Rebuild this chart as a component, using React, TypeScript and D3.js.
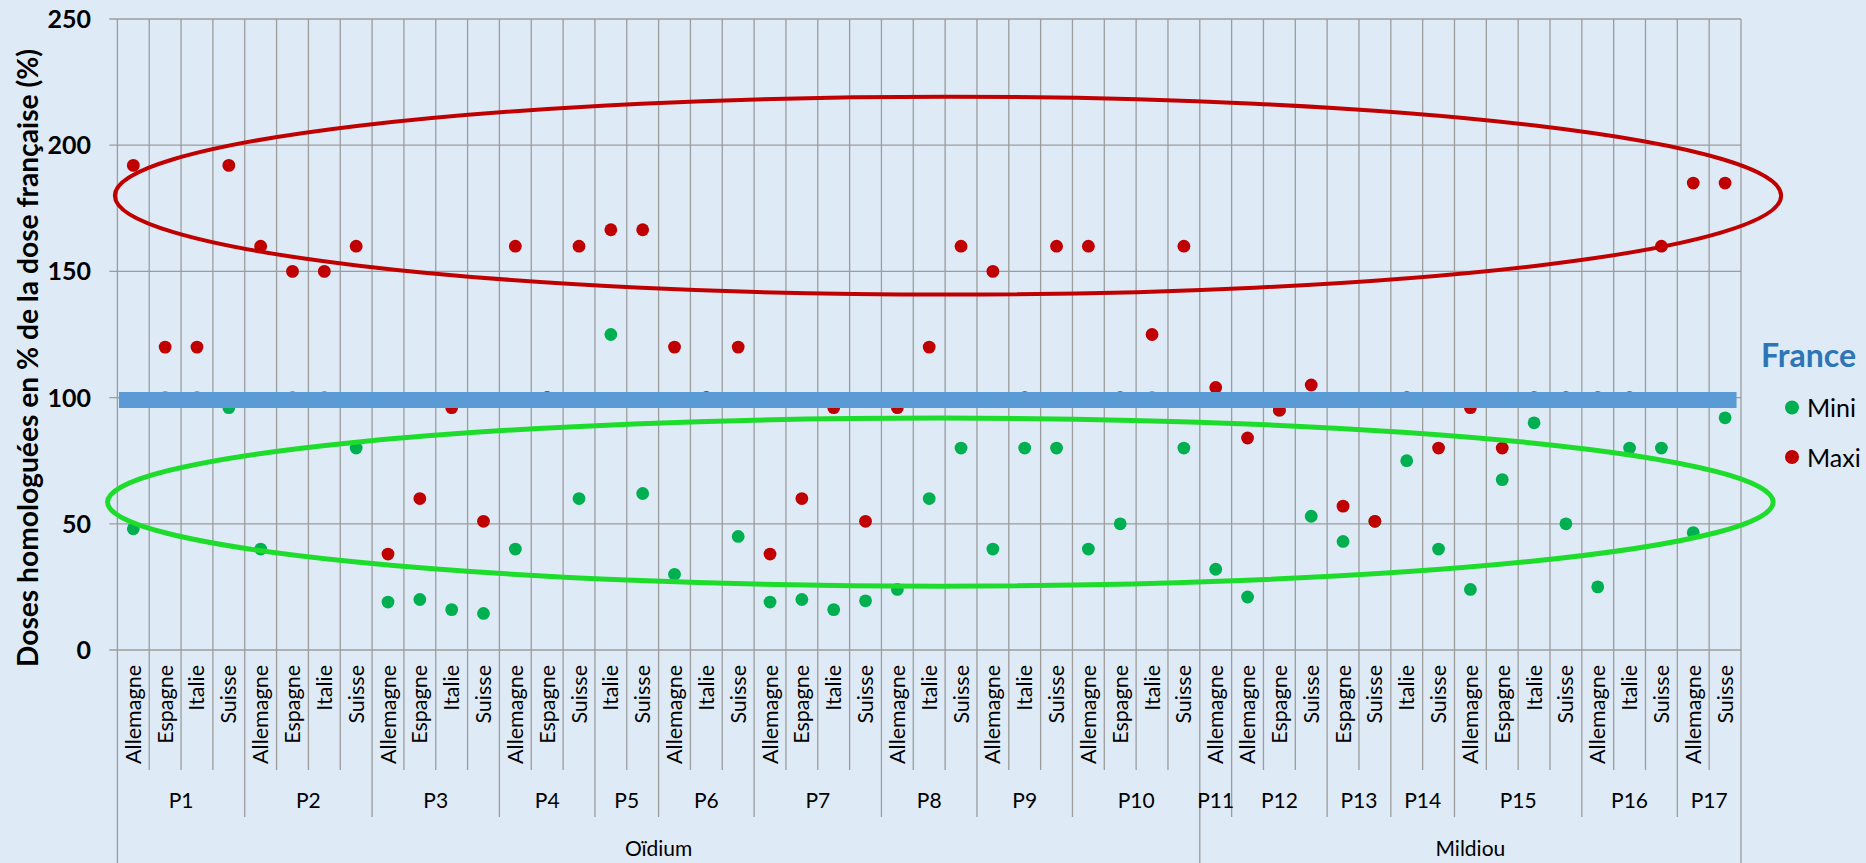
import React from "react";
import * as d3 from "d3";

// ---------- data ----------
const countries = [
  "Allemagne", "Espagne", "Italie", "Suisse",
  "Allemagne", "Espagne", "Italie", "Suisse",
  "Allemagne", "Espagne", "Italie", "Suisse",
  "Allemagne", "Espagne", "Suisse",
  "Italie", "Suisse",
  "Allemagne", "Italie", "Suisse",
  "Allemagne", "Espagne", "Italie", "Suisse",
  "Allemagne", "Italie", "Suisse",
  "Allemagne", "Italie", "Suisse",
  "Allemagne", "Espagne", "Italie", "Suisse",
  "Allemagne",
  "Allemagne", "Espagne", "Suisse",
  "Espagne", "Suisse",
  "Italie", "Suisse",
  "Allemagne", "Espagne", "Italie", "Suisse",
  "Allemagne", "Italie", "Suisse",
  "Allemagne", "Suisse",
];
const products = ["P1", "P2", "P3", "P4", "P5", "P6", "P7", "P8", "P9", "P10", "P11", "P12", "P13", "P14", "P15", "P16", "P17"];
const productSizes = [4, 4, 4, 3, 2, 3, 4, 3, 3, 4, 1, 3, 2, 2, 4, 3, 2];
const diseases = ["Oïdium", "Mildiou"];
const diseaseSizes = [34, 17];

const mini = [
  48, 100, 100, 96, 40, 100, 100, 80, 19, 20, 16, 14.5, 40, 100, 60, 125, 62,
  30, 100, 45, 19, 20, 16, 19.5, 24, 60, 80, 40, 80, 80, 40, 50, 100, 80, 32,
  21, 95, 53, 43, 51, 75, 40, 24, 67.5, 90, 50, 25, 80, 80, 46.5, 92,
];
const maxi = [
  192, 120, 120, 192, 160, 150, 150, 160, 38, 60, 96, 51, 160, 100, 160, 166.5,
  166.5, 120, 100, 120, 38, 60, 96, 51, 96, 120, 160, 150, 100, 160, 160, 100,
  125, 160, 104, 84, 95, 105, 57, 51, 100, 80, 96, 80, 100, 100, 100, 100, 160,
  185, 185,
];
const yTicks = [0, 50, 100, 150, 200, 250];
const franceLevel = 99;
const seriesNames = ["Mini", "Maxi"];
const legendTitle = "France";
const yTitle = "Doses homologuées en % de la dose française (%)";

// annotation ellipses (category-index / value units)
const redEllipse = { cx: 26.09, rx: 26.17, cy: 180, ry: 39.2 };
const greenEllipse = { cx: 25.85, rx: 26.16, cy: 58.6, ry: 33.3 };

// ---------- layout ----------
const W = 1866;
const H = 863;
const L = 117.4;
const R = 1741;
const T = 19;
const B = 650;
const BG = "#deeaf6";
const GRID = "#9c9c9c";
const GREEN = "#00b050";
const RED = "#c00000";
const FONT = "Lato, 'Open Sans', sans-serif";

export default function App() {
  const n = countries.length;
  const idx = d3.range(n);
  const x = d3.scaleBand<number>().domain(idx).range([L, R]).padding(0);
  const xi = d3.scaleLinear().domain([0, n]).range([L, R]);
  const y = d3.scaleLinear().domain([0, 250]).range([B, T]);
  const bw = x.bandwidth();

  const prodStarts = d3.cumsum([0, ...productSizes]);
  const disStarts = d3.cumsum([0, ...diseaseSizes]);
  const prodBounds = new Set(Array.from(prodStarts));
  const disBounds = new Set(Array.from(disStarts));

  const catX = (i: number) => (x(i) as number) + bw / 2;

  return (
    <svg
      width={W}
      height={H}
      style={{ position: "absolute", left: 0, top: 0, display: "block" }}
      fontFamily={FONT}
    >
      <rect x={0} y={0} width={W} height={H} fill={BG} />

      {/* horizontal gridlines */}
      {yTicks.map((t) => (
        <line key={"h" + t} x1={L - 8} x2={R} y1={y(t)} y2={y(t)} stroke={GRID} strokeWidth={1.3} />
      ))}
      {/* vertical gridlines + multi-level ticks */}
      {d3.range(n + 1).map((k) => {
        const xx = xi(k);
        let bottom = 770;
        if (prodBounds.has(k)) bottom = 817;
        if (disBounds.has(k)) bottom = H;
        return <line key={"v" + k} x1={xx} x2={xx} y1={T} y2={bottom} stroke={GRID} strokeWidth={1.3} />;
      })}

      {/* y tick labels */}
      {yTicks.map((t) => (
        <text key={"yl" + t} x={91} y={y(t)} dy="0.36em" textAnchor="end" fontSize={25} fontWeight="bold" fill="#000">
          {t}
        </text>
      ))}

      {/* y title */}
      <text
        transform={`translate(37.5,358) rotate(-90)`}
        textAnchor="middle"
        fontSize={28.2}
        fontWeight="bold"
        fill="#000"
      >
        {yTitle}
      </text>

      {/* country labels */}
      {countries.map((c, i) => (
        <text
          key={"c" + i}
          transform={`translate(${catX(i) + 7.5},665) rotate(-90)`}
          textAnchor="end"
          fontSize={21.5}
          fill="#000"
        >
          {c}
        </text>
      ))}
      {/* product labels */}
      {products.map((p, j) => (
        <text
          key={"p" + j}
          x={(xi(prodStarts[j]) + xi(prodStarts[j + 1])) / 2}
          y={800}
          dy="0.36em"
          textAnchor="middle"
          fontSize={21}
          fill="#000"
        >
          {p}
        </text>
      ))}
      {/* disease labels */}
      {diseases.map((d, j) => (
        <text
          key={"d" + j}
          x={(xi(disStarts[j]) + xi(disStarts[j + 1])) / 2}
          y={848}
          dy="0.36em"
          textAnchor="middle"
          fontSize={21}
          fill="#000"
        >
          {d}
        </text>
      ))}

      {/* points */}
      {mini.map((v, i) => (
        <circle key={"g" + i} cx={catX(i)} cy={y(v)} r={6.4} fill={GREEN} />
      ))}
      {maxi.map((v, i) => (
        <circle key={"r" + i} cx={catX(i)} cy={y(v)} r={6.4} fill={RED} />
      ))}

      {/* France reference line */}
      <line
        x1={xi(0.05)}
        x2={xi(50.86)}
        y1={y(franceLevel)}
        y2={y(franceLevel)}
        stroke="#5b9bd5"
        strokeWidth={16}
      />

      {/* annotation ellipses */}
      <ellipse
        cx={xi(redEllipse.cx)}
        cy={y(redEllipse.cy)}
        rx={xi(redEllipse.rx) - xi(0)}
        ry={y(0) - y(redEllipse.ry)}
        fill="none"
        stroke={RED}
        strokeWidth={4}
      />
      <ellipse
        cx={xi(greenEllipse.cx)}
        cy={y(greenEllipse.cy)}
        rx={xi(greenEllipse.rx) - xi(0)}
        ry={y(0) - y(greenEllipse.ry)}
        fill="none"
        stroke="#1edc2c"
        strokeWidth={5}
      />

      {/* legend */}
      <text x={1761} y={367} fontSize={32} fontWeight="bold" fill="#2e75b6">
        {legendTitle}
      </text>
      <circle cx={1792} cy={407.5} r={7} fill={GREEN} />
      <text x={1807} y={416.5} fontSize={25} fill="#000">
        {seriesNames[0]}
      </text>
      <circle cx={1792} cy={457} r={7} fill={RED} />
      <text x={1807} y={466.5} fontSize={25} fill="#000">
        {seriesNames[1]}
      </text>
    </svg>
  );
}
